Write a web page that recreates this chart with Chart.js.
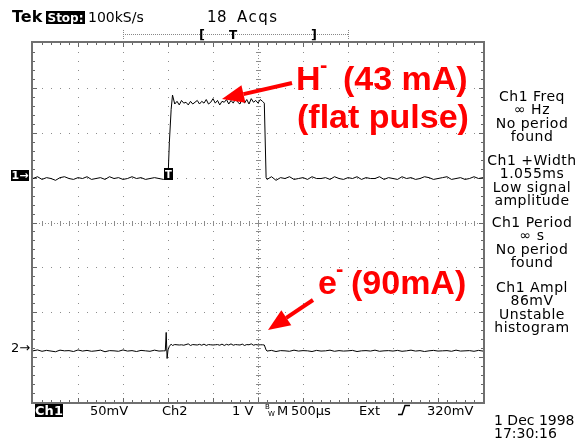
<!DOCTYPE html>
<html>
<head>
<meta charset="utf-8">
<script src="https://cdn.jsdelivr.net/npm/chart.js@4.4.1/dist/chart.umd.min.js"></script>
<style>
  html, body { margin: 0; padding: 0; background: #fff; }
  #wrap { width: 577px; height: 440px; }
</style>
</head>
<body>
<div id="wrap"><canvas id="scope" width="577" height="440"></canvas></div>
<script>
// sample times in µs (trigger at 0)
const timeUs = [
  -1500, -1450, -1400, -1350, -1300, -1250, -1200, -1150, -1100, -1050,
  -1000, -950, -900, -850, -800, -750, -700, -650, -600, -550,
  -500, -450, -400, -350, -300, -250, -200, -150, -100, -50,
  -30, -20, -10, 0, 15, 35,
  50, 75, 100, 125, 150, 175, 200, 225, 250, 275,
  300, 325, 350, 375, 400, 425, 450, 475, 500, 525,
  550, 575, 600, 625, 650, 675, 700, 725, 750, 775,
  800, 825, 850, 875, 900, 925, 950, 975, 1000, 1025,
  1050, 1070, 1090,
  1100, 1150, 1200, 1250, 1300, 1350, 1400, 1450, 1500, 1550,
  1600, 1650, 1700, 1750, 1800, 1850, 1900, 1950, 2000, 2050,
  2100, 2150, 2200, 2250, 2300, 2350, 2400, 2450, 2500, 2550,
  2600, 2650, 2700, 2750, 2800, 2850, 2900, 2950, 3000, 3050,
  3100, 3150, 3200, 3250, 3300, 3350, 3400, 3450, 3500
];

// Ch1 (H- current), mV at 50 mV/div
const ch1mV = [
  -1, 1, -2, 0, -1, -3, 0, 1, -1, -2,
  0, -1, 1, -2, -1, 0, -2, 1, -1, 0,
  -2, -1, 1, -1, 0, -2, -1, 0, -1, -2,
  -1, 0, -1, -1, 39, 76,
  92, 82, 85, 81, 86, 83, 84, 81, 85, 82,
  84, 86, 82, 85, 83, 87, 82, 84, 88, 83,
  86, 81, 85, 84, 87, 82, 86, 83, 88, 84,
  82, 89, 83, 87, 82, 88, 84, 86, 83, 87,
  85, 83, 0,
  -2, 1, -3, 0, -1, 1, -2, -1, 0, -2,
  1, -1, -1, 0, -2, 1, -1, -2, 0, -1,
  1, -2, 0, -1, -1, 1, -2, 0, -1, -2,
  1, -1, 0, -2, -1, 1, 0, -2, -1, 0,
  1, -2, -1, 0, -2, -1, 1, -1, 0
];

// Ch2 (electron current), mV at 1 V/div
const ch2mV = [
  -80, -60, -90, -70, -85, -100, -65, -80, -75, -95,
  -60, -85, -70, -90, -80, -65, -100, -75, -80, -90,
  -60, -85, -75, -95, -70, -80, -90, -65, -85, -80,
  -80, 330, -250, -60, 20, 70,
  40, 60, 55, 50, 55, 45, 60, 75, 40, 60,
  55, 50, 65, 45, 70, 40, 60, 55, 50, 55,
  60, 45, 70, 40, 65, 50, 75, 45, 60, 55,
  50, 70, 40, 60, 55, 75, 45, 60, 50, 55,
  55, 50, -60,
  -85, -70, -95, -75, -80, -90, -65, -85, -75, -80,
  -95, -70, -85, -80, -65, -90, -75, -85, -80, -70,
  -95, -80, -75, -85, -65, -90, -80, -75, -85, -70,
  -90, -80, -65, -85, -75, -95, -80, -70, -85, -80,
  -75, -90, -65, -85, -80, -75, -90, -70, -85
];

const ch1PerDiv = 50;     // mV/div
const ch2PerDiv = 1000;   // mV/div
const ch1Ground = 1.0;    // divisions from centre
const ch2Ground = -2.78;
const timePerDiv = 500;   // µs/div
const triggerDiv = 3;

const measurements = [
  ['Ch1 Freq', '\u221E Hz', 'No period', 'found'],
  ['Ch1 +Width', '1.055ms', 'Low signal', 'amplitude'],
  ['Ch1 Period', '\u221E s', 'No period', 'found'],
  ['Ch1 Ampl', '86mV', 'Unstable', 'histogram']
];

const FONT = '"DejaVu Sans", Verdana, sans-serif';
const RED_FONT = '"Liberation Sans", Arial, sans-serif';

function toPoints(vals, perDiv, ground) {
  return timeUs.map((t, i) => ({ x: t, y: vals[i] / perDiv + ground }));
}

function txt(ctx, s, x, y, font, color, align, spacing) {
  ctx.font = font;
  ctx.fillStyle = color || '#000';
  ctx.textAlign = align || 'left';
  ctx.textBaseline = 'alphabetic';
  ctx.letterSpacing = spacing || '0px';
  ctx.fillText(s, x, y);
  ctx.letterSpacing = '0px';
}

function boxTxt(ctx, s, x, y, w, h, font) {
  ctx.fillStyle = '#000';
  ctx.fillRect(x, y, w, h);
  txt(ctx, s, x + w / 2, y + h - 2, font, '#fff', 'center');
}

function arrow(ctx, x1, y1, x2, y2) {
  const ang = Math.atan2(y2 - y1, x2 - x1);
  const len = 22, half = 9;
  const bx = x2 - len * Math.cos(ang), by = y2 - len * Math.sin(ang);
  ctx.strokeStyle = '#ff0000';
  ctx.lineWidth = 4;
  ctx.beginPath();
  ctx.moveTo(x1, y1);
  ctx.lineTo(bx, by);
  ctx.stroke();
  ctx.fillStyle = '#ff0000';
  ctx.beginPath();
  ctx.moveTo(x2, y2);
  ctx.lineTo(bx + half * Math.sin(ang), by - half * Math.cos(ang));
  ctx.lineTo(bx - half * Math.sin(ang), by + half * Math.cos(ang));
  ctx.closePath();
  ctx.fill();
}

const scopeFace = {
  id: 'scopeFace',
  beforeDraw(chart) {
    const ctx = chart.ctx;
    ctx.save();
    ctx.fillStyle = '#fff';
    ctx.fillRect(0, 0, chart.width, chart.height);
    ctx.restore();
  },
  beforeDatasetsDraw(chart) {
    const { ctx, chartArea: a, scales: { x, y } } = chart;
    const xMin = x.min;
    ctx.save();
    ctx.fillStyle = '#8c8c8c';
    // dotted division lines
    for (let i = 1; i < 10; i++) {
      if (i === 5) continue;
      const px = Math.round(x.getPixelForValue(xMin + i * timePerDiv));
      for (let k = 1; k < 40; k++) {
        ctx.fillRect(px, Math.round(y.getPixelForValue(-4 + k * 0.2)), 1, 1);
      }
    }
    for (let j = 1; j < 8; j++) {
      if (j === 4) continue;
      const py = Math.round(y.getPixelForValue(-4 + j));
      for (let k = 1; k < 50; k++) {
        ctx.fillRect(Math.round(x.getPixelForValue(xMin + k * timePerDiv / 5)), py, 1, 1);
      }
    }
    // centre lines with minor ticks
    const cx = Math.round(x.getPixelForValue(xMin + 5 * timePerDiv));
    const cy = Math.round(y.getPixelForValue(0));
    for (let py = a.top; py < a.bottom; py += 3) ctx.fillRect(cx, py, 1, 1);
    for (let px = a.left; px < a.right; px += 3) ctx.fillRect(px, cy, 1, 1);
    for (let k = 1; k < 40; k++) {
      const py = Math.round(y.getPixelForValue(-4 + k * 0.2));
      ctx.fillRect(cx - 2, py, 5, 1);
    }
    for (let k = 1; k < 50; k++) {
      const px = Math.round(x.getPixelForValue(xMin + k * timePerDiv / 5));
      ctx.fillRect(px, cy - 2, 1, 5);
    }
    // border ticks
    ctx.fillStyle = '#666';
    for (let k = 1; k < 50; k++) {
      const px = Math.round(x.getPixelForValue(xMin + k * timePerDiv / 5));
      const major = k % 5 === 0 ? 4 : 2;
      ctx.fillRect(px, a.top, 1, major);
      ctx.fillRect(px, a.bottom - major, 1, major);
    }
    for (let k = 1; k < 40; k++) {
      const py = Math.round(y.getPixelForValue(-4 + k * 0.2));
      const major = k % 5 === 0 ? 4 : 2;
      ctx.fillRect(a.left, py, major, 1);
      ctx.fillRect(a.right - major, py, major, 1);
    }
    // border
    ctx.strokeStyle = '#707070';
    ctx.lineWidth = 2;
    ctx.strokeRect(a.left - 1, a.top - 1, a.right - a.left + 2, a.bottom - a.top + 2);
    ctx.restore();
  },
  afterDatasetsDraw(chart) {
    const { ctx, scales: { x, y } } = chart;
    ctx.save();

    // channel ground markers and trigger point
    const g1 = Math.round(y.getPixelForValue(ch1Ground));
    const g2 = y.getPixelForValue(ch2Ground);
    boxTxt(ctx, '1\u2192', 11, g1 - 8, 18, 11, 'bold 11px ' + FONT);
    txt(ctx, '2\u2192', 11, g2 + 5, '13px ' + FONT, '#000');
    const tx = Math.round(x.getPixelForValue(0));
    boxTxt(ctx, 'T', tx - 4, g1 - 10, 9, 12, 'bold 10px ' + FONT);

    // header
    txt(ctx, 'Tek', 12, 22, 'bold 16px ' + FONT);
    boxTxt(ctx, 'Stop:', 46, 11, 39, 13, 'bold 12px ' + FONT);
    txt(ctx, '100kS/s', 88, 22, '14px ' + FONT);
    txt(ctx, '18', 207, 22, '15px ' + FONT, '#000', 'left', '0.5px');
    txt(ctx, 'Acqs', 237, 22, '15px ' + FONT, '#000', 'left', '1.5px');
    ctx.fillStyle = '#888';
    for (let px = 123; px <= 348; px += 2) ctx.fillRect(px, 34, 1, 1);
    for (let py = 30; py <= 38; py += 2) { ctx.fillRect(123, py, 1, 1); ctx.fillRect(348, py, 1, 1); }
    txt(ctx, '[', 199, 39, 'bold 13px ' + FONT);
    txt(ctx, 'T', 229, 39, 'bold 12px ' + FONT);
    txt(ctx, ']', 311, 39, 'bold 13px ' + FONT);

    // measurement panel
    const starts = [101, 165, 227, 292];
    measurements.forEach((grp, gi) => {
      grp.forEach((line, li) => {
        txt(ctx, line, 532, starts[gi] + li * 13.3, '14px ' + FONT, '#000', 'center', '0.5px');
      });
    });

    // bottom status line
    boxTxt(ctx, 'Ch1', 35, 404, 28, 13, 'bold 13px ' + FONT);
    txt(ctx, '50mV', 90, 415, '13px ' + FONT);
    txt(ctx, 'Ch2', 162, 415, '13px ' + FONT);
    txt(ctx, '1 V', 232, 415, '13px ' + FONT);
    txt(ctx, 'B', 265, 409, '7px ' + FONT);
    txt(ctx, 'W', 268, 416, '7px ' + FONT);
    txt(ctx, 'M', 277, 415, '13px ' + FONT);
    txt(ctx, '500\u00B5s', 291, 415, '13px ' + FONT);
    txt(ctx, 'Ext', 359, 415, '13px ' + FONT);
    ctx.strokeStyle = '#000';
    ctx.lineWidth = 1.5;
    ctx.beginPath();
    ctx.moveTo(398, 414.5); ctx.lineTo(402, 414.5); ctx.lineTo(405, 405.5); ctx.lineTo(410, 405.5);
    ctx.stroke();
    txt(ctx, '320mV', 427, 415, '13px ' + FONT);
    txt(ctx, '1 Dec 1998', 494, 425, '14px ' + FONT);
    txt(ctx, '17:30:16', 494, 438, '14px ' + FONT);

    // red annotations
    const rf = 'bold 34px ' + RED_FONT;
    txt(ctx, 'H', 296, 90, rf, '#ff0000');
    txt(ctx, '-', 320, 72, 'bold 22px ' + RED_FONT, '#ff0000');
    txt(ctx, '(43 mA)', 343, 90, rf, '#ff0000');
    txt(ctx, '(flat pulse)', 297, 128, rf, '#ff0000');
    txt(ctx, 'e', 318, 294, rf, '#ff0000');
    txt(ctx, '-', 336, 276, 'bold 22px ' + RED_FONT, '#ff0000');
    txt(ctx, '(90mA)', 351, 294, rf, '#ff0000');
    arrow(ctx, 292, 83, 222, 99);
    arrow(ctx, 313, 300, 268, 330);

    ctx.restore();
  }
};

new Chart(document.getElementById('scope'), {
  type: 'scatter',
  data: {
    datasets: [
      {
        data: toPoints(ch1mV, ch1PerDiv, ch1Ground),
        showLine: true,
        borderColor: '#000',
        borderWidth: 1,
        pointRadius: 0,
        tension: 0
      },
      {
        data: toPoints(ch2mV, ch2PerDiv, ch2Ground),
        showLine: true,
        borderColor: '#000',
        borderWidth: 1,
        pointRadius: 0,
        tension: 0
      }
    ]
  },
  options: {
    responsive: false,
    animation: false,
    events: [],
    layout: { padding: { left: 33, top: 43, right: 94, bottom: 38 } },
    plugins: {
      legend: { display: false },
      tooltip: { enabled: false }
    },
    scales: {
      x: { type: 'linear', display: false, min: -triggerDiv * timePerDiv, max: (10 - triggerDiv) * timePerDiv },
      y: { type: 'linear', display: false, min: -4, max: 4 }
    }
  },
  plugins: [scopeFace]
});
</script>
</body>
</html>
